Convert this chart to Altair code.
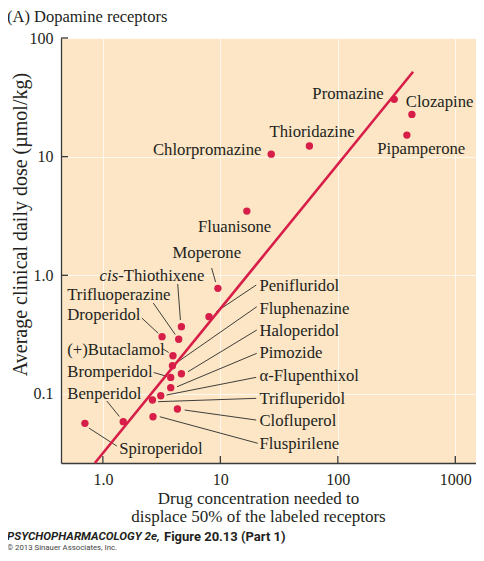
import altair as alt
import pandas as pd

# ---------------- data ----------------
drugs = ["Promazine", "Clozapine", "Pipamperone", "Thioridazine", "Chlorpromazine",
         "Fluanisone", "Moperone", "Penifluridol", "cis-Thiothixene", "Trifluoperazine",
         "Droperidol", "(+)Butaclamol", "Fluphenazine", "Haloperidol", "Bromperidol",
         "Pimozide", "α-Flupenthixol", "Trifluperidol", "Clofluperol", "Fluspirilene",
         "Benperidol", "Spiroperidol"]
conc = [302, 427, 387, 57.3, 27.1, 16.8, 9.53, 8.0, 4.66, 4.42, 3.19, 3.95, 3.91, 4.66,
        3.78, 3.78, 3.11, 2.64, 4.31, 2.67, 1.49, 0.703]
dose = [30.4, 22.7, 15.2, 12.3, 10.5, 3.48, 0.777, 0.448, 0.369, 0.289, 0.304, 0.210,
        0.173, 0.148, 0.138, 0.113, 0.0967, 0.0889, 0.0747, 0.0643, 0.0584, 0.0566]

# regression line end points
fit_x = [0.855, 437]
fit_y = [0.0262, 52.0]

# label placements (data units)
label_text = ["Promazine", "Clozapine", "Pipamperone", "Thioridazine", "Chlorpromazine",
              "Fluanisone", "Moperone", "-Thiothixene", "Trifluoperazine", "Droperidol",
              "(+)Butaclamol", "Bromperidol", "Benperidol", "Spiroperidol",
              "Penifluridol", "Fluphenazine", "Haloperidol", "Pimozide",
              "α-Flupenthixol", "Trifluperidol", "Clofluperol", "Fluspirilene"]
label_x = [60.7, 379.3, 216.4, 26.2, 2.67, 6.45, 3.91, 1.349, 0.4975, 0.4975,
           0.4975, 0.4975, 0.4975, 1.375,
           21.5, 21.5, 21.5, 21.5, 21.5, 21.5, 21.5, 21.5]
label_y = [33.7, 28.9, 11.67, 16.2, 11.3, 2.57, 1.532, 0.99, 0.682, 0.463,
           0.2347, 0.154, 0.1003, 0.0342,
           0.816, 0.518, 0.3405, 0.2202, 0.1408, 0.0910, 0.0589, 0.0381]
italic_text = ["cis"]
italic_x = [1.349]
italic_y = [0.99]

# leader lines (label end -> dot end)
lead_x1 = [8.425, 4.335, 2.685, 2.144, 3.20, 2.71, 1.081, 0.7605,
           20.2, 20.43, 20.43, 20.43, 20.2, 20.2, 20.2, 20.84]
lead_y1 = [1.152, 0.845, 0.584, 0.4366, 0.2416, 0.1517, 0.0872, 0.0516,
           0.828, 0.5435, 0.346, 0.2202, 0.1381, 0.0919, 0.0603, 0.0384]
lead_x2 = [9.11, 4.57, 4.13, 2.96, 3.635, 3.53, 1.381, 1.315,
           9.24, 4.36, 5.30, 4.275, 3.475, 2.949, 4.97, 3.05]
lead_y2 = [0.878, 0.420, 0.317, 0.3246, 0.2236, 0.1404, 0.0646, 0.0364,
           0.4934, 0.187, 0.154, 0.1151, 0.098, 0.0861, 0.0732, 0.0643]

x_ticks = [1, 10, 100, 1000]
y_ticks = [0.1, 1, 10, 100]
y_tick_marks = [1, 10, 100]   # the 0.1 tick is hidden behind the "Benperidol" label

title_text = ["(A)  Dopamine receptors"]
x_title = ["Drug concentration needed to", "displace 50% of the labeled receptors"]
y_title = "Average clinical daily dose (µmol/kg)"
footer_a = ["PSYCHOPHARMACOLOGY 2e,"]
footer_b = ["Figure 20.13 (Part 1)"]
footer_c = ["© 2013 Sinauer Associates, Inc."]

# ---------------- style ----------------
W, H = 415, 425
RED = "#D71E48"
INK = "#231F20"
AX = "#3a3a3a"
SERIF = "Liberation Serif"
PEACH = "#FCE6C6"

xs = alt.Scale(type="log", domain=[0.44, 1500], nice=False)
ys = alt.Scale(type="log", domain=[0.0262, 100], nice=False)
lab_expr = "datum.value >= 10 ? format(datum.value, 'd') : format(datum.value, '.1f')"

x_axis = alt.Axis(values=x_ticks, labelExpr=lab_expr, tickSize=0, labelPadding=8,
                  labelFont=SERIF, labelFontSize=16, labelColor=INK, labelFlush=False,
                  domainColor=AX, domainWidth=1.3, grid=True, gridColor="white",
                  gridWidth=1, gridOpacity=0.7, title=x_title, titleFont=SERIF,
                  titleFontSize=17, titleFontWeight="normal", titleColor=INK,
                  titleX=197, titleY=40, titleBaseline="alphabetic", titleAlign="center",
                  titleLineHeight=18.4)
y_axis = alt.Axis(values=y_ticks, labelExpr=lab_expr, tickSize=0, labelPadding=8,
                  labelFont=SERIF, labelFontSize=16, labelColor=INK,
                  domainColor=AX, domainWidth=1.3, grid=True, gridColor="white",
                  gridWidth=1, gridOpacity=0.7, title=y_title, titleFont=SERIF,
                  titleFontSize=20, titleFontWeight="normal", titleColor=INK,
                  titleX=-41, titleY=186, titleAngle=270, titleBaseline="middle",
                  titleAlign="center")


def X(f):
    return alt.X(f, scale=xs, axis=x_axis)


def Y(f):
    return alt.Y(f, scale=ys, axis=y_axis)


pts = pd.DataFrame({"drug": drugs, "conc": conc, "dose": dose})
fit = pd.DataFrame({"conc": fit_x, "dose": fit_y})
labs = pd.DataFrame({"t": label_text, "x": label_x, "y": label_y})
ital = pd.DataFrame({"t": italic_text, "x": italic_x, "y": italic_y})
leads = pd.DataFrame({"x1": lead_x1, "y1": lead_y1, "x2": lead_x2, "y2": lead_y2})

dots = alt.Chart(pts).mark_circle(size=54, color=RED, opacity=1).encode(
    x=X("conc:Q"), y=Y("dose:Q"))
line = alt.Chart(fit).mark_line(color=RED, strokeWidth=2.6).encode(
    x=X("conc:Q"), y=Y("dose:Q"))
leaders = alt.Chart(leads).mark_rule(color="#2a2a2a", strokeWidth=0.9).encode(
    x=X("x1:Q"), y=Y("y1:Q"), x2="x2:Q", y2="y2:Q")
labels = alt.Chart(labs).mark_text(align="left", baseline="middle", font=SERIF,
                                   fontSize=16.7, color=INK).encode(
    x=X("x:Q"), y=Y("y:Q"), text="t:N")
italics = alt.Chart(ital).mark_text(align="right", baseline="middle", font=SERIF,
                                    fontSize=16.7, fontStyle="italic", color=INK).encode(
    x=X("x:Q"), y=Y("y:Q"), text="t:N")

xt = alt.Chart(pd.DataFrame({"v": x_ticks})).mark_rule(color=AX, strokeWidth=1.3).encode(
    x=X("v:Q"), y=alt.value(H - 7), y2=alt.value(H))
yt = alt.Chart(pd.DataFrame({"v": y_tick_marks})).mark_rule(color=AX, strokeWidth=1.3).encode(
    y=Y("v:Q"), x=alt.value(0), x2=alt.value(7))

title = alt.Chart(pd.DataFrame({"t": title_text})).mark_text(
    align="left", baseline="middle", font=SERIF, fontSize=16.5, color=INK).encode(
    text="t:N", x=alt.value(-54), y=alt.value(-21))
fa = alt.Chart(pd.DataFrame({"t": footer_a})).mark_text(
    align="left", baseline="middle", font="Roboto", fontSize=11.6, fontWeight="bold",
    fontStyle="italic", color=INK).encode(text="t:N", x=alt.value(-54), y=alt.value(499.3))
fb = alt.Chart(pd.DataFrame({"t": footer_b})).mark_text(
    align="left", baseline="middle", font="Roboto", fontSize=13, fontWeight="bold",
    color=INK).encode(text="t:N", x=alt.value(103), y=alt.value(499.3))
fc = alt.Chart(pd.DataFrame({"t": footer_c})).mark_text(
    align="left", baseline="middle", font="Roboto", fontSize=7.8,
    color="#444444").encode(text="t:N", x=alt.value(-54), y=alt.value(510.3))

chart = alt.layer(leaders, line, dots, labels, italics, xt, yt, title, fa, fb, fc).properties(
    width=W, height=H,
    padding={"left": 53, "top": 30, "right": 0, "bottom": 90},
    autosize=alt.AutoSizeParams(type="none"),
).configure_view(fill=PEACH, stroke="transparent")

chart.save("out.html", embed_options={"renderer": "svg", "actions": False})
